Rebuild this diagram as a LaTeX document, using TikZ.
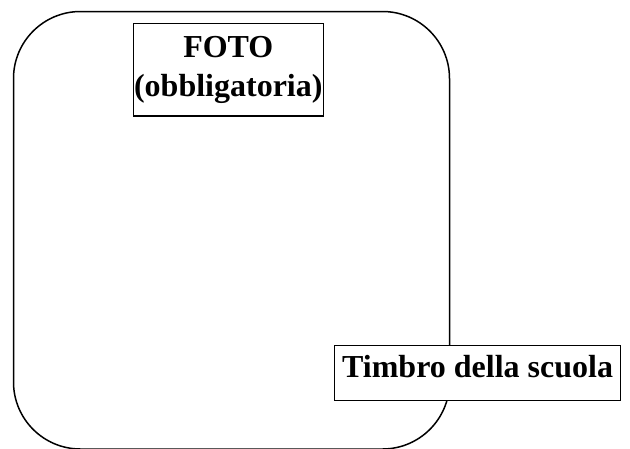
\documentclass[tikz,border=0pt]{standalone}
\usepackage{fontspec}
\setmainfont{Liberation Serif}
\usepackage{tikz}
\usetikzlibrary{positioning}

\begin{document}
\begin{tikzpicture}[x=1pt, y=-1pt,
    cardbox/.style={draw, line width=1.5pt, fill=white, inner sep=0pt, align=center,
      font=\bfseries\fontsize{32}{39}\selectfont}]
            \useasboundingbox (0,0) rectangle (630,448);
            \draw[line width=1.5pt, rounded corners=67pt] (13.5,11.5) rectangle (449.5,449);
            \node[cardbox, minimum width=190pt, minimum height=92.7pt] (foto) at (228.3,69.85) {FOTO\\(obbligatoria)};
            \node[cardbox, minimum width=286pt, minimum height=55.3pt, text height=22pt, text depth=13pt] (timbro) at (477.6,373) {Timbro della scuola};
          \end{tikzpicture}
\end{document}
